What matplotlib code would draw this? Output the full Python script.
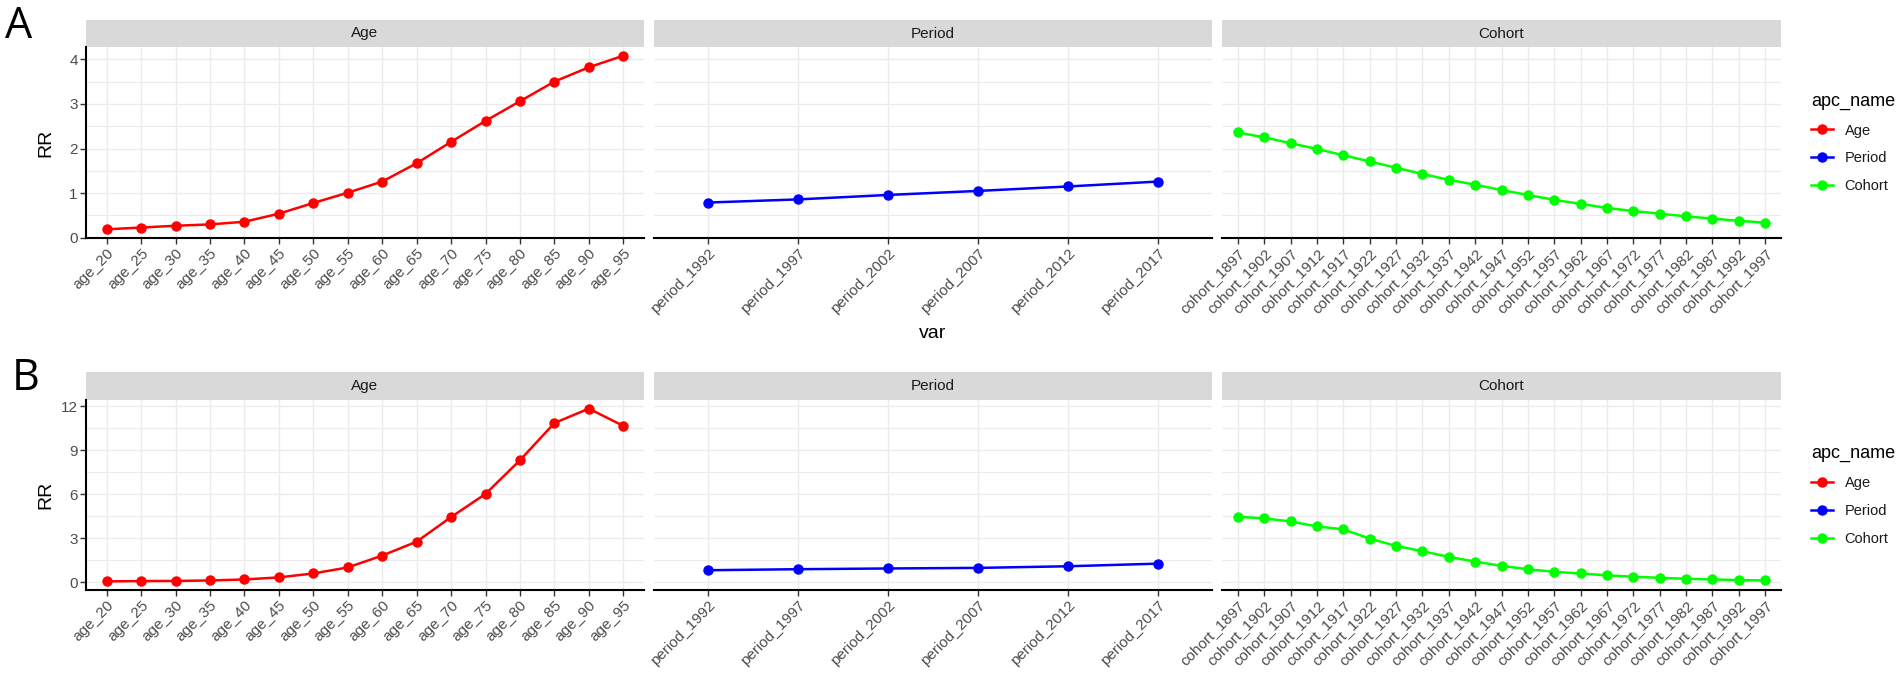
import matplotlib
matplotlib.use('Agg')
import matplotlib.pyplot as plt
from matplotlib.lines import Line2D
from matplotlib.ticker import MultipleLocator

W, H, DPI = 1902, 691, 100

age_labels = ['age_20', 'age_25', 'age_30', 'age_35', 'age_40', 'age_45', 'age_50', 'age_55',
              'age_60', 'age_65', 'age_70', 'age_75', 'age_80', 'age_85', 'age_90', 'age_95']
period_labels = ['period_1992', 'period_1997', 'period_2002', 'period_2007', 'period_2012', 'period_2017']
cohort_labels = ['cohort_1897', 'cohort_1902', 'cohort_1907', 'cohort_1912', 'cohort_1917', 'cohort_1922',
                 'cohort_1927', 'cohort_1932', 'cohort_1937', 'cohort_1942', 'cohort_1947', 'cohort_1952',
                 'cohort_1957', 'cohort_1962', 'cohort_1967', 'cohort_1972', 'cohort_1977', 'cohort_1982',
                 'cohort_1987', 'cohort_1992', 'cohort_1997']

a_age = [0.19, 0.23, 0.27, 0.30, 0.36, 0.54, 0.78, 1.01, 1.26, 1.67, 2.15, 2.62, 3.06, 3.50, 3.82, 4.08]
a_period = [0.79, 0.86, 0.96, 1.05, 1.15, 1.26]
a_cohort = [2.36, 2.25, 2.12, 1.99, 1.85, 1.71, 1.57, 1.43, 1.30, 1.19, 1.07, 0.96, 0.85, 0.76, 0.67,
            0.60, 0.54, 0.48, 0.43, 0.38, 0.34]

b_age = [0.05, 0.07, 0.08, 0.11, 0.18, 0.32, 0.59, 1.00, 1.81, 2.76, 4.44, 6.02, 8.32, 10.86, 11.84, 10.66]
b_period = [0.81, 0.88, 0.93, 0.97, 1.08, 1.26]
b_cohort = [4.46, 4.35, 4.14, 3.80, 3.60, 2.97, 2.47, 2.11, 1.72, 1.40, 1.11, 0.88, 0.70, 0.59, 0.46,
            0.37, 0.29, 0.23, 0.18, 0.14, 0.11]

facet_names = ['Age', 'Period', 'Cohort']
facet_colors = ['#FF0000', '#0000FF', '#00FF00']
legend_title = 'apc_name'

plt.rcParams['font.family'] = ['Liberation Sans', 'DejaVu Sans']

fig = plt.figure(figsize=(W / DPI, H / DPI), dpi=DPI)


def px_axes(x0, y0, x1, y1):
    return fig.add_axes([x0 / W, 1 - y1 / H, (x1 - x0) / W, (y1 - y0) / H])


panel_x = [(86, 644), (654, 1212), (1222, 1781)]
GRID = '#EBEBEB'
TICK_COL = '#4D4D4D'


def draw_row(strip_top, plot_top, plot_bottom, series, ystep, letter, letter_xy, xtitle):
    cats = [age_labels, period_labels, cohort_labels]
    allv = [v for s in series for v in s]
    lo, hi = min(allv), max(allv)
    pad = 0.05 * (hi - lo)
    for i, ((x0, x1), labels, vals, name, col) in enumerate(zip(panel_x, cats, series, facet_names, facet_colors)):
        sax = px_axes(x0, strip_top, x1, plot_top)
        sax.set_facecolor('#D9D9D9')
        sax.set_xticks([]); sax.set_yticks([])
        for sp in sax.spines.values():
            sp.set_visible(False)
        sax.text(0.5, 0.5, name, ha='center', va='center', fontsize=11, color='#1A1A1A',
                 transform=sax.transAxes)

        ax = px_axes(x0, plot_top, x1, plot_bottom)
        ax.plot(labels, vals, color=col, lw=1.8, marker='o', ms=6.5, zorder=3)
        ax.set_xlim(-0.6, len(labels) - 1 + 0.6)
        ax.set_ylim(lo - pad, hi + pad)
        ax.yaxis.set_major_locator(MultipleLocator(ystep))
        ax.yaxis.set_minor_locator(MultipleLocator(ystep / 2))
        ax.grid(True, which='major', color=GRID, lw=1.0, zorder=0)
        ax.grid(True, which='minor', axis='y', color=GRID, lw=0.8, zorder=0)
        ax.set_axisbelow(True)
        for s in ['top', 'right']:
            ax.spines[s].set_visible(False)
        ax.spines['bottom'].set_linewidth(1.5)
        ax.spines['bottom'].set_color('black')
        ax.tick_params(axis='x', length=4, width=1, color='#333333', pad=2)
        ax.set_xticks(range(len(labels)))
        ax.set_xticklabels(labels, rotation=45, ha='right', rotation_mode='anchor',
                           fontsize=11, color=TICK_COL)
        ax.tick_params(axis='y', which='minor', length=0)
        if i == 0:
            ax.spines['left'].set_linewidth(1.5)
            ax.spines['left'].set_color('black')
            ax.tick_params(axis='y', which='major', length=4, width=1, color='#333333',
                           labelsize=11, labelcolor=TICK_COL, pad=2)
        else:
            ax.spines['left'].set_visible(False)
            ax.tick_params(axis='y', which='major', length=0, labelleft=False)

    yc = (plot_top + plot_bottom) / 2
    fig.text(46 / W, 1 - yc / H, 'RR', rotation=90, ha='center', va='center', fontsize=14, color='black')
    fig.text(letter_xy[0] / W, 1 - letter_xy[1] / H, letter, ha='left', va='top', fontsize=31,
             color='black', family=['Open Sans', 'DejaVu Sans'])
    if xtitle:
        fig.text(933 / W, 1 - 333 / H, 'var', ha='center', va='center', fontsize=14, color='black')

    handles = [Line2D([0], [0], color=c, lw=1.8, marker='o', ms=6.5) for c in facet_colors]
    leg = fig.legend(handles, facet_names, title=legend_title, loc='upper left',
                     bbox_to_anchor=(1811 / W, 1 - (yc - 50) / H), frameon=False,
                     fontsize=10.5, title_fontsize=13, handlelength=1.5, handletextpad=0.8,
                     labelspacing=0.95, alignment='left', borderaxespad=0, borderpad=0)
    for t in leg.get_texts():
        t.set_color('#1A1A1A')


draw_row(20, 47, 238, [a_age, a_period, a_cohort], 1, 'A', (5, 5), True)
draw_row(372, 400, 590, [b_age, b_period, b_cohort], 3, 'B', (12, 357), False)

fig.savefig('out.png', dpi=DPI)
